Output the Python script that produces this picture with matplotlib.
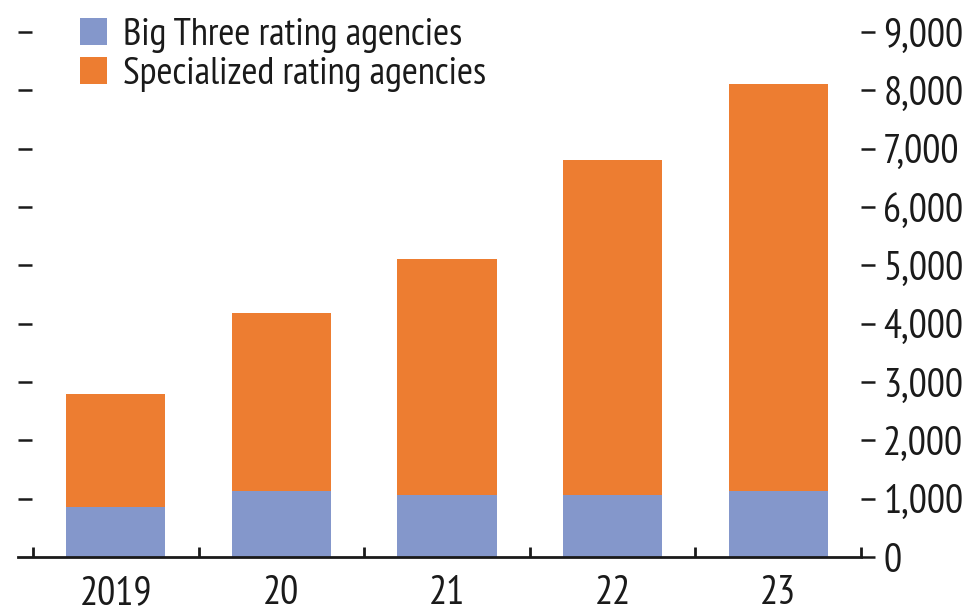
import numpy as np
import matplotlib
matplotlib.use("Agg")
import matplotlib.pyplot as plt

# データ
years = ["2019", "20", "21", "22", "23"]
big_three = [860, 1140, 1060, 1060, 1140]
specialized = [1940, 3050, 4050, 5750, 6970]
y_ticks = [0, 1000, 2000, 3000, 4000, 5000, 6000, 7000, 8000, 9000]
y_labels = ["0", "1,000", "2,000", "3,000", "4,000", "5,000", "6,000", "7,000", "8,000", "9,000"]

plt.rcParams["font.family"] = ["PT Sans Narrow", "DejaVu Sans"]

c_blue = "#8497CB"
c_orange = "#ED7D31"
c_ink = "#1a1a1a"
fs_tick = 29
fs_leg = 28

fig = plt.figure(figsize=(9.68, 6.11), dpi=100)
ax = fig.add_axes([18 / 968, 54 / 611, 843 / 968, 525 / 611])

x = np.arange(len(years))
ax.bar(x, big_three, width=0.6, color=c_blue, label="Big Three rating agencies")
ax.bar(x, specialized, width=0.6, bottom=big_three, color=c_orange,
       label="Specialized rating agencies")

ax.set_xlim(-0.59, 4.5)
ax.set_ylim(0, 9000)

for s in ["left", "right", "top"]:
    ax.spines[s].set_visible(False)
ax.spines["bottom"].set_linewidth(2)
ax.spines["bottom"].set_color(c_ink)

# x軸
ax.set_xticks(x)
ax.set_xticklabels(years, fontsize=fs_tick, color=c_ink)
ax.set_xticks(np.arange(-0.5, 5.0, 1.0), minor=True)
ax.tick_params(axis="x", which="major", length=0, pad=13)
ax.tick_params(axis="x", which="minor", direction="in", length=7, width=2, color=c_ink)

# 左の目盛り（ラベルなし）
ax.set_yticks(y_ticks[1:])
ax.tick_params(axis="y", direction="in", length=10, width=1.8, color=c_ink,
               labelleft=False)

# 右の目盛り
ax2 = ax.twinx()
ax2.set_ylim(0, 9000)
for s in ["left", "right", "top", "bottom"]:
    ax2.spines[s].set_visible(False)
ax2.set_yticks(y_ticks)
ax2.set_yticklabels(y_labels, fontsize=fs_tick, color=c_ink)
ax2.tick_params(axis="y", direction="out", length=10, width=1.8, color=c_ink, pad=6)

leg = ax.legend(loc="upper left", bbox_to_anchor=(62 / 843, 1.0 + 14 / 525),
                frameon=False, fontsize=fs_leg, handlelength=0.7, handleheight=0.7,
                handletextpad=0.4, labelspacing=0.1, borderaxespad=0, borderpad=0)
for t in leg.get_texts():
    t.set_color(c_ink)

fig.savefig("out.png", dpi=100)
